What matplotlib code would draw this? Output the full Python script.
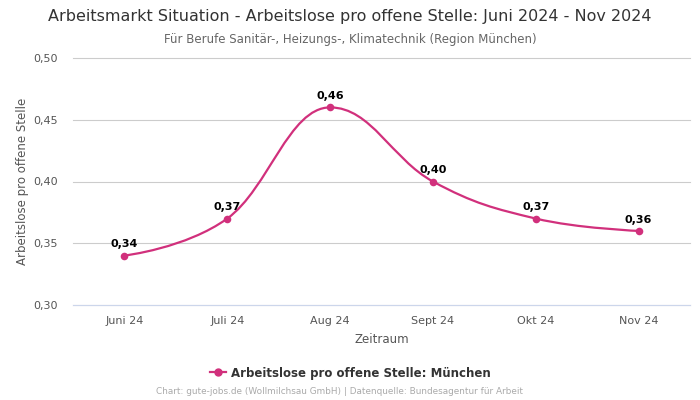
import matplotlib
matplotlib.use("Agg")
import matplotlib.pyplot as plt
from matplotlib.path import Path
from matplotlib.patches import PathPatch
from matplotlib.lines import Line2D

categories = ["Juni 24", "Juli 24", "Aug 24", "Sept 24", "Okt 24", "Nov 24"]
values = [0.34, 0.37, 0.46, 0.40, 0.37, 0.36]
yticks = [0.30, 0.35, 0.40, 0.45, 0.50]

COLOR = "#d1307c"

def spline_path(xs, ys, smoothing=1.5):
    n = len(xs)
    denom = smoothing + 1
    lc = [(x, y) for x, y in zip(xs, ys)]
    rc = [(x, y) for x, y in zip(xs, ys)]
    for i in range(1, n - 1):
        px, py = xs[i], ys[i]
        lx, ly = xs[i - 1], ys[i - 1]
        nx, ny = xs[i + 1], ys[i + 1]
        lcx = (smoothing * px + lx) / denom
        lcy = (smoothing * py + ly) / denom
        rcx = (smoothing * px + nx) / denom
        rcy = (smoothing * py + ny) / denom
        if rcx != lcx:
            corr = ((rcy - lcy) * (rcx - px)) / (rcx - lcx) + py - rcy
            lcy += corr
            rcy += corr
            if lcy > ly and lcy > py:
                lcy = max(ly, py); rcy = 2 * py - lcy
            elif lcy < ly and lcy < py:
                lcy = min(ly, py); rcy = 2 * py - lcy
            if rcy > ny and rcy > py:
                rcy = max(ny, py); lcy = 2 * py - rcy
            elif rcy < ny and rcy < py:
                rcy = min(ny, py); lcy = 2 * py - rcy
        lc[i] = (lcx, lcy)
        rc[i] = (rcx, rcy)
    verts = [(xs[0], ys[0])]
    codes = [Path.MOVETO]
    for i in range(1, n):
        verts += [rc[i - 1], lc[i], (xs[i], ys[i])]
        codes += [Path.CURVE4] * 3
    return Path(verts, codes)

fig = plt.figure(figsize=(7, 4), dpi=100)
ax = fig.add_axes([73 / 700, 1 - 305 / 400, 617 / 700, 247 / 400])

xs = list(range(len(categories)))
path = spline_path(xs, values)
ax.add_patch(PathPatch(path, facecolor="none", edgecolor=COLOR, lw=1.6, zorder=3))
ax.scatter(xs, values, s=30, color=COLOR, zorder=4, linewidths=0)

for x, v in zip(xs, values):
    ax.annotate(f"{v:.2f}".replace(".", ","), (x, v), xytext=(0, 4.5),
                textcoords="offset points", ha="center", va="bottom",
                fontsize=8, fontweight="bold", color="#000000")

ax.set_xlim(-0.5, len(categories) - 0.5)
ax.set_ylim(0.30, 0.50)
ax.set_yticks(yticks)
ax.set_yticklabels([f"{t:.2f}".replace(".", ",") for t in yticks])
ax.set_xticks(xs)
ax.set_xticklabels(categories)
ax.tick_params(axis="both", length=0, labelsize=8, colors="#555555")
ax.tick_params(axis="y", pad=11)
ax.tick_params(axis="x", pad=8)
ax.grid(axis="y", color="#cccccc", lw=0.8)
for gl in ax.get_ygridlines():
    gl.set_clip_on(False)
ax.set_axisbelow(True)
for s in ax.spines.values():
    s.set_visible(False)
ax.spines["bottom"].set_visible(True)
ax.spines["bottom"].set_color("#ccd6eb")
ax.spines["bottom"].set_linewidth(0.8)

ax.set_xlabel("Zeitraum", fontsize=8.5, color="#555555", labelpad=5)
ax.set_ylabel("Arbeitslose pro offene Stelle", fontsize=8.5, color="#555555", labelpad=3)

fig.text(0.5, 1 - 17 / 400, "Arbeitsmarkt Situation - Arbeitslose pro offene Stelle: Juni 2024 - Nov 2024",
         ha="center", va="center", fontsize=11.5, color="#333333")
fig.text(0.5, 1 - 39 / 400, "Für Berufe Sanitär-, Heizungs-, Klimatechnik (Region München)",
         ha="center", va="center", fontsize=8.5, color="#666666")

handle = Line2D([0], [0], color=COLOR, lw=1.6, marker="o", markersize=5)
fig.legend([handle], ["Arbeitslose pro offene Stelle: München"], loc="center",
           bbox_to_anchor=(0.5, 1 - 373 / 400), frameon=False,
           prop={"weight": "bold", "size": 8.5}, labelcolor="#333333",
           handlelength=1.4, handletextpad=0.4)

fig.text(340 / 700, 1 - 392 / 400, "Chart: gute-jobs.de (Wollmilchsau GmbH) | Datenquelle: Bundesagentur für Arbeit",
         ha="center", va="center", fontsize=6.4, color="#aaaaaa")

fig.savefig("out.png", dpi=100)
